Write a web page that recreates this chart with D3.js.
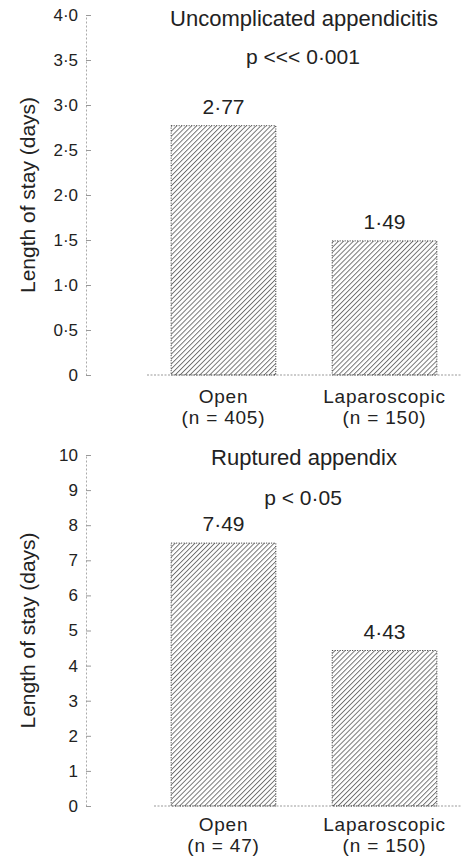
<!DOCTYPE html>
<html>
<head>
<meta charset="utf-8">
<script src="https://cdn.jsdelivr.net/npm/d3@7"></script>
<style>
  body { margin: 0; background: #fff; }
  text { font-family: "Liberation Sans", Arial, Helvetica, sans-serif; fill: #222; }
</style>
</head>
<body>
<div class="chart"></div>
<script>
var categories = ["Open", "Laparoscopic"];

var uncompTitle = "Uncomplicated appendicitis";
var uncompP = "p <<< 0·001";
var uncompN = ["(n = 405)", "(n = 150)"];
var uncompStay = [2.77, 1.49];
var uncompTicks = [0, 0.5, 1, 1.5, 2, 2.5, 3, 3.5, 4];

var ruptTitle = "Ruptured appendix";
var ruptP = "p < 0·05";
var ruptN = ["(n = 47)", "(n = 150)"];
var ruptStay = [7.49, 4.43];
var ruptTicks = [0, 1, 2, 3, 4, 5, 6, 7, 8, 9, 10];

var yTitle = "Length of stay (days)";

var width = 461, height = 857;

var svg = d3.select(".chart").append("svg")
  .attr("width", width)
  .attr("height", height)

// diagonal hatch used for all bars
var defs = svg.append("defs");
defs.append("pattern")
  .attr("id", "hatch")
  .attr("patternUnits", "userSpaceOnUse")
  .attr("width", 3.5)
  .attr("height", 10)
  .attr("patternTransform", "rotate(45)")
  .append("line")
  .attr("x1", 0.5).attr("y1", 0)
  .attr("x2", 0.5).attr("y2", 10)
  .attr("stroke", "#4a4a4a")
  .attr("stroke-width", 0.8)

var x = d3.scaleBand()
  .domain(categories)
  .range([147, 461])
  .paddingInner(0.35)
  .paddingOuter(0.15)

function drawPanel(opts) {
  var g = svg.append("g").attr("class", "panel");

  var y = d3.scaleLinear()
    .domain(opts.domain)
    .range([opts.bottom, opts.top])

  var axis = d3.axisLeft(y)
    .tickValues(opts.ticks)
    .tickSize(-5)
    .tickSizeOuter(0)
    .tickPadding(8)
    .tickFormat(opts.format)

  var ax = g.append("g")
    .attr("transform", "translate(86,0)")
    .call(axis)

  ax.select(".domain")
    .attr("stroke", "#aaa")
    .attr("stroke-dasharray", "2,2")
  ax.selectAll(".tick line")
    .attr("stroke", "#999")
  ax.selectAll(".tick text")
    .style("font-size", "17px")
    .attr("fill", "#222")

  // baseline
  g.append("line")
    .attr("x1", opts.baseStart)
    .attr("x2", width)
    .attr("y1", y(0))
    .attr("y2", y(0))
    .attr("stroke", "#999")
    .attr("stroke-dasharray", "2,1.5")

  g.selectAll("rect.bar")
    .data(opts.values)
    .enter()
    .append("rect")
    .attr("class", "bar")
    .attr("x", function(d, i) { return x(categories[i]); })
    .attr("width", x.bandwidth())
    .attr("y", function(d) { return y(d); })
    .attr("height", function(d) { return y(0) - y(d); })
    .attr("fill", "url(#hatch)")
    .attr("stroke", "#333")
    .attr("stroke-width", 1)
    .attr("stroke-dasharray", "1,1.5")

  g.selectAll("text.val")
    .data(opts.values)
    .enter()
    .append("text")
    .attr("class", "val")
    .attr("x", function(d, i) { return x(categories[i]) + x.bandwidth() / 2; })
    .attr("y", function(d) { return y(d) - 12; })
    .attr("text-anchor", "middle")
    .style("font-size", "21px")
    .text(function(d) { return d.toFixed(2).replace(".", "·"); })

  g.selectAll("text.cat")
    .data(categories)
    .enter()
    .append("text")
    .attr("class", "cat")
    .attr("x", function(d) { return x(d) + x.bandwidth() / 2; })
    .attr("y", y(0) + opts.catDy)
    .attr("text-anchor", "middle")
    .style("font-size", "19px")
    .style("letter-spacing", "0.8px")
    .text(function(d) { return d; })

  g.selectAll("text.n")
    .data(opts.n)
    .enter()
    .append("text")
    .attr("class", "n")
    .attr("x", function(d, i) { return x(categories[i]) + x.bandwidth() / 2; })
    .attr("y", y(0) + opts.catDy + 21)
    .attr("text-anchor", "middle")
    .style("font-size", "19px")
    .style("letter-spacing", "0.8px")
    .text(function(d) { return d; })

  g.append("text")
    .attr("x", 304)
    .attr("y", opts.titleY)
    .attr("text-anchor", "middle")
    .style("font-size", "22px")
    .text(opts.title)

  g.append("text")
    .attr("x", 303)
    .attr("y", opts.pY)
    .attr("text-anchor", "middle")
    .style("font-size", "21px")
    .text(opts.p)

  g.append("text")
    .attr("transform", "translate(35," + ((opts.top + opts.bottom) / 2) + ") rotate(-90)")
    .attr("text-anchor", "middle")
    .style("font-size", "21px")
    .text(yTitle)
}

drawPanel({
  domain: [0, 4], top: 15, bottom: 375,
  ticks: uncompTicks,
  format: function(d) { return d === 0 ? "0" : d.toFixed(1).replace(".", "·"); },
  values: uncompStay, n: uncompN,
  title: uncompTitle, p: uncompP,
  titleY: 26, pY: 64, baseStart: 147, catDy: 28
})

drawPanel({
  domain: [0, 10], top: 455, bottom: 806,
  ticks: ruptTicks,
  format: function(d) { return String(d); },
  values: ruptStay, n: ruptN,
  title: ruptTitle, p: ruptP,
  titleY: 465, pY: 505, baseStart: 154, catDy: 25
})
</script>
</body>
</html>
